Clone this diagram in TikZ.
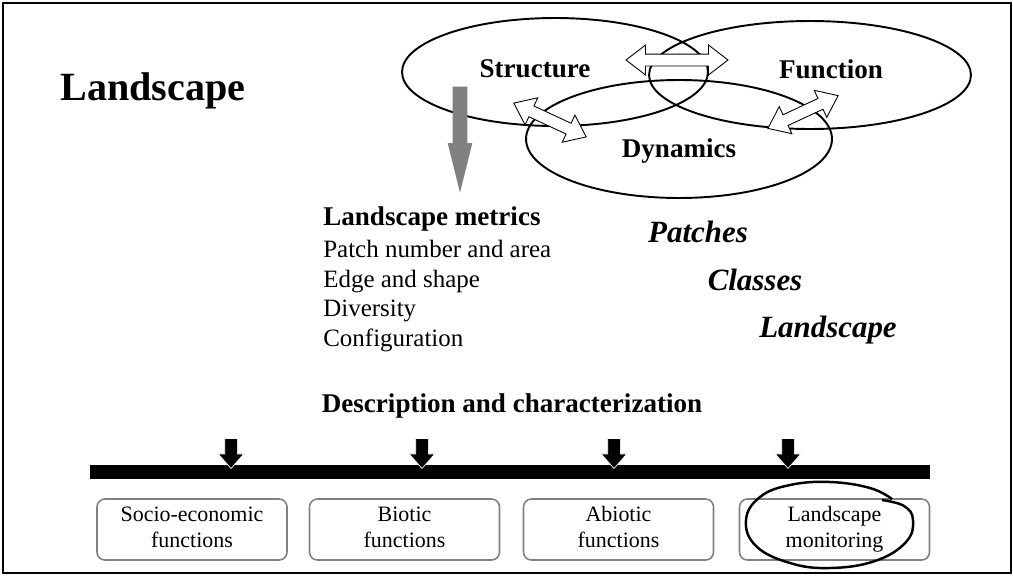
\documentclass[tikz,border=0pt]{standalone}
\usepackage{fontspec}
\setmainfont{Liberation Serif}
\usetikzlibrary{shapes.geometric,shapes.arrows}

\begin{document}
\begin{tikzpicture}[x=0.02cm,y=-0.02cm,
  ring/.style={draw,ellipse,line width=1.1pt,inner sep=0pt},
  twoway/.style={double arrow,draw,fill=white,line width=0.5pt,inner xsep=0pt,inner ysep=0.11cm,double arrow head extend=0.18cm,double arrow tip angle=75},
  pointer/.style={single arrow,fill=black,draw=white,line width=0.4pt,rotate=-90,anchor=tip,inner xsep=0pt,inner ysep=0.12cm,single arrow head extend=0.13cm,single arrow tip angle=83,minimum height=0.6cm},
  funcbox/.style={draw=black!50,line width=0.9pt,rounded corners=4.5pt,minimum width=3.8cm,minimum height=1.22cm,inner sep=0pt,align=center,font=\fontsize{12.5pt}{14.8pt}\selectfont},
  head/.style={font=\bfseries\fontsize{15.4pt}{18pt}\selectfont,anchor=base,inner sep=0pt},
  plain/.style={font=\fontsize{14.2pt}{17pt}\selectfont,anchor=base west,inner sep=0pt},
  level/.style={font=\bfseries\itshape\fontsize{17.6pt}{20pt}\selectfont,anchor=base,inner sep=0pt}]
\useasboundingbox (0,0) rectangle (1013,575);
\draw[line width=1.2pt] (3,3) rectangle (1011,573);

% title
\node[font=\bfseries\fontsize{22.8pt}{26pt}\selectfont,anchor=base,inner sep=0pt] (title) at (153,100) {Landscape};

% the three rings
\node[ring,minimum width=6.12cm,minimum height=2.16cm] (str) at (555,72) {};
\node[ring,minimum width=6.44cm,minimum height=2.16cm] (fun) at (810,75) {};
\node[ring,minimum width=6.12cm,minimum height=2.36cm] (dyn) at (679,139) {};
\node[head] (strl) at (535,77) {Structure};
\node[head] (funl) at (831,78) {Function};
\node[head] (dynl) at (679,157) {Dynamics};

\node[twoway,minimum height=2.04cm] (sf) at (677,60) {};
\node[twoway,minimum height=1.6cm,rotate=-25] (sd) at (550,120) {};
\node[twoway,minimum height=1.55cm,rotate=25] (fd) at (803,112) {};

\node[single arrow,fill=black!50,rotate=-90,anchor=tip,minimum height=2.12cm,inner xsep=0pt,inner ysep=0.14cm,single arrow head extend=0.1cm,single arrow tip angle=28] (down) at (460,194) {};

% metrics
\node[head,anchor=base west] (met) at (323,225) {Landscape metrics};
\node[plain] (m1) at (323,257) {Patch number and area};
\node[plain] (m2) at (323,287) {Edge and shape};
\node[plain] (m3) at (323,316) {Diversity};
\node[plain] (m4) at (323,346) {Configuration};

\node[level] (lv1) at (698,242) {Patches};
\node[level] (lv2) at (755,290) {Classes};
\node[level] (lv3) at (828,337) {Landscape};

\node[head] (desc) at (512,412) {Description and characterization};

% bar and functions
\node[fill=black,minimum width=16.8cm,minimum height=0.28cm,inner sep=0pt] (bar) at (510,472) {};
\foreach \x/\n in {231/1,422/2,614/3,788/4}
  \node[pointer] (p\n) at (\x,469) {};

\node[funcbox] (b1) at (192,529.5) {\strut Socio-economic\\\strut functions};
\node[funcbox] (b2) at (404.5,529.5) {\strut Biotic\\\strut functions};
\node[funcbox] (b3) at (618.5,529.5) {\strut Abiotic\\\strut functions};
\node[funcbox] (b4) at (834.5,529.5) {\strut Landscape\\\strut monitoring};

\draw[line width=1.4pt] plot[smooth,tension=0.7] coordinates {(892,499) (870,488) (830,482) (790,485) (760,497) (746,520) (756,546) (790,563) (830,568) (875,561) (906,542) (913,520) (904,506) (882,500)};
\end{tikzpicture}
\end{document}
